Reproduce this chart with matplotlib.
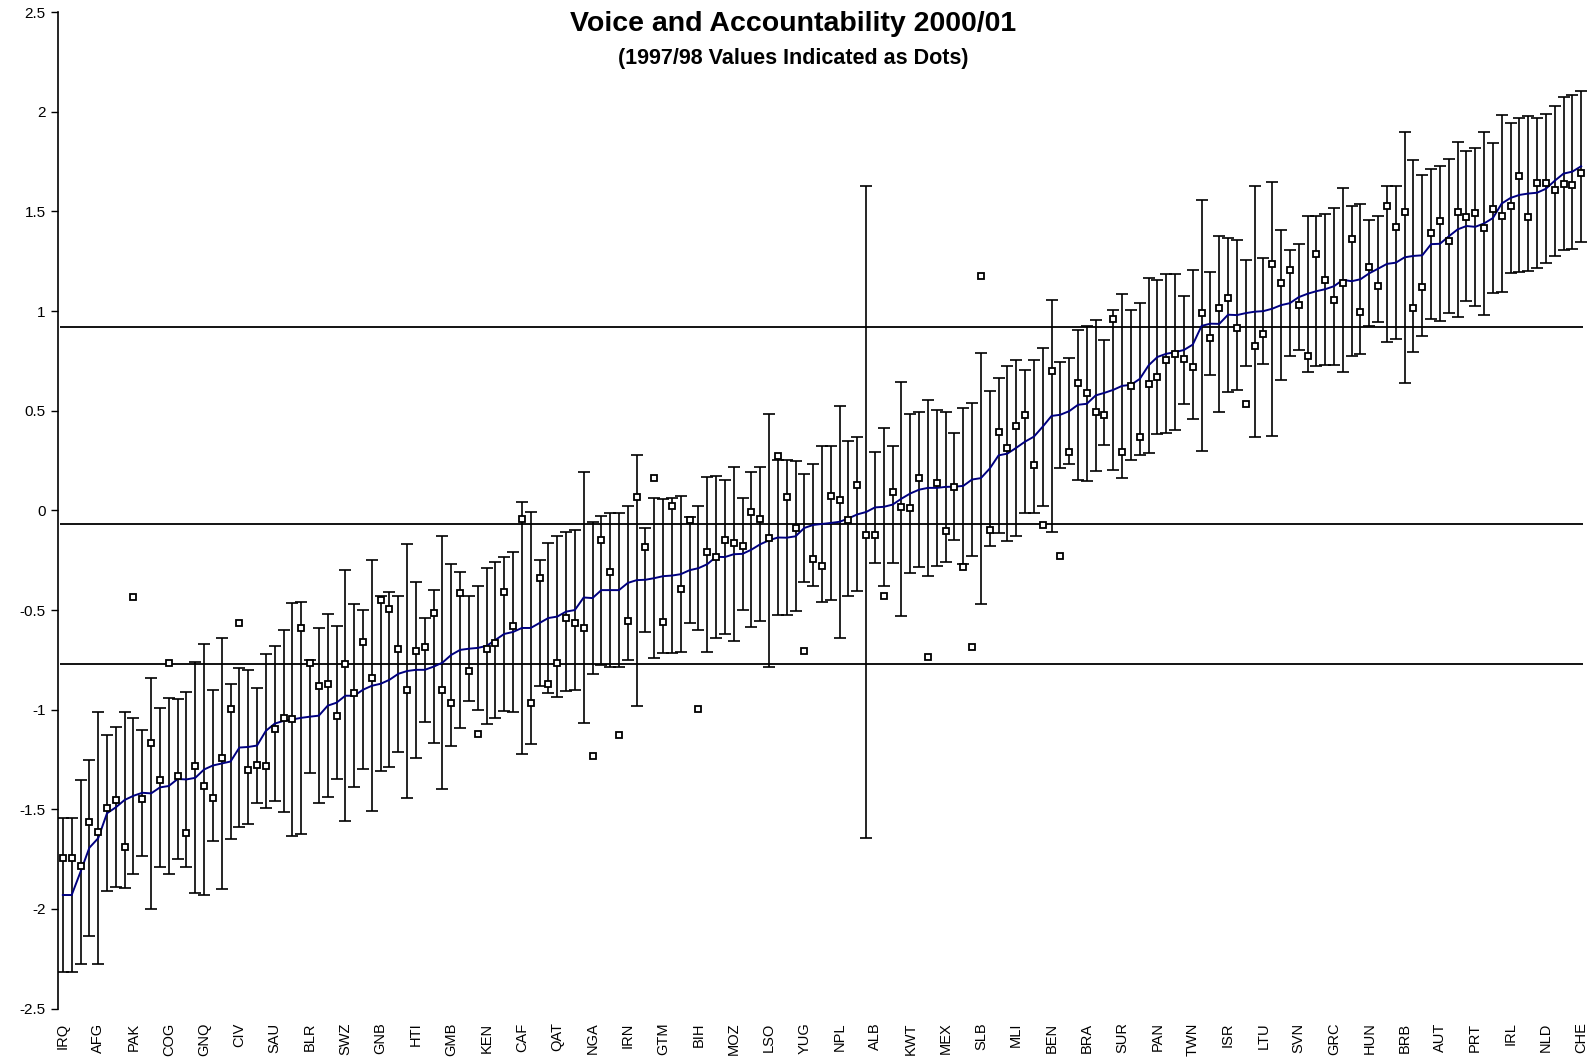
import numpy as np
import matplotlib
matplotlib.use("Agg")
import matplotlib.pyplot as plt

plt.rcParams["font.family"] = ["Liberation Sans", "DejaVu Sans"]

# 2000/01 point estimates, sorted low to high
estimate = [
    -1.93, -1.93, -1.814, -1.693, -1.645, -1.52, -1.49, -1.453, -1.432, -1.417,
    -1.42, -1.39, -1.383, -1.348, -1.35, -1.342, -1.30, -1.28, -1.27, -1.26,
    -1.19, -1.187, -1.18, -1.106, -1.07, -1.056, -1.049, -1.041, -1.035, -1.03,
    -0.98, -0.965, -0.93, -0.93, -0.90, -0.88, -0.87, -0.85, -0.82, -0.806,
    -0.80, -0.80, -0.784, -0.764, -0.725, -0.70, -0.694, -0.69, -0.68, -0.65,
    -0.62, -0.61, -0.59, -0.59, -0.565, -0.54, -0.533, -0.508, -0.50, -0.437,
    -0.44, -0.40, -0.40, -0.40, -0.364, -0.35, -0.348, -0.34, -0.33, -0.327,
    -0.32, -0.30, -0.29, -0.27, -0.233, -0.234, -0.22, -0.218, -0.197, -0.17,
    -0.15, -0.136, -0.137, -0.13, -0.088, -0.073, -0.068, -0.063, -0.057, -0.04,
    -0.02, -0.008, 0.015, 0.018, 0.029, 0.059, 0.085, 0.104, 0.113, 0.113,
    0.118, 0.119, 0.123, 0.155, 0.162, 0.21, 0.276, 0.285, 0.314, 0.345,
    0.37, 0.42, 0.474, 0.48, 0.498, 0.53, 0.535, 0.577, 0.59, 0.605,
    0.625, 0.63, 0.66, 0.728, 0.77, 0.786, 0.794, 0.805, 0.832, 0.926,
    0.937, 0.936, 0.982, 0.98, 0.99, 0.997, 1.0, 1.012, 1.03, 1.04,
    1.07, 1.087, 1.10, 1.11, 1.125, 1.157, 1.15, 1.16, 1.19, 1.213,
    1.237, 1.243, 1.27, 1.277, 1.28, 1.336, 1.338, 1.375, 1.41, 1.427,
    1.423, 1.44, 1.467, 1.54, 1.568, 1.583, 1.59, 1.594, 1.614, 1.654,
    1.69, 1.70, 1.727,
]

# half-width of the confidence interval around each estimate
margin = [
    0.385, 0.385, 0.462, 0.441, 0.632, 0.392, 0.402, 0.44, 0.392, 0.315,
    0.581, 0.40, 0.44, 0.40, 0.44, 0.58, 0.63, 0.38, 0.63, 0.39,
    0.40, 0.386, 0.29, 0.386, 0.39, 0.456, 0.583, 0.583, 0.284, 0.438,
    0.46, 0.385, 0.63, 0.46, 0.40, 0.63, 0.44, 0.44, 0.39, 0.635,
    0.44, 0.26, 0.385, 0.636, 0.456, 0.39, 0.264, 0.31, 0.39, 0.39,
    0.386, 0.40, 0.63, 0.58, 0.316, 0.376, 0.405, 0.40, 0.40, 0.63,
    0.38, 0.374, 0.385, 0.385, 0.386, 0.63, 0.26, 0.40, 0.388, 0.39,
    0.39, 0.266, 0.31, 0.44, 0.406, 0.386, 0.436, 0.28, 0.39, 0.386,
    0.635, 0.39, 0.39, 0.376, 0.27, 0.305, 0.39, 0.386, 0.582, 0.39,
    0.386, 1.637, 0.28, 0.397, 0.294, 0.587, 0.40, 0.39, 0.44, 0.39,
    0.378, 0.268, 0.392, 0.382, 0.63, 0.388, 0.39, 0.44, 0.44, 0.36,
    0.385, 0.396, 0.58, 0.265, 0.265, 0.376, 0.388, 0.38, 0.264, 0.40,
    0.46, 0.376, 0.383, 0.44, 0.385, 0.40, 0.39, 0.27, 0.375, 0.63,
    0.26, 0.44, 0.386, 0.376, 0.266, 0.63, 0.266, 0.637, 0.376, 0.266,
    0.265, 0.39, 0.376, 0.378, 0.393, 0.46, 0.376, 0.376, 0.265, 0.266,
    0.39, 0.385, 0.63, 0.48, 0.405, 0.376, 0.39, 0.386, 0.44, 0.376,
    0.396, 0.46, 0.375, 0.443, 0.378, 0.388, 0.388, 0.376, 0.375, 0.376,
    0.383, 0.386, 0.379,
]

# 1997/98 estimates for the same countries
values_9798 = [
    -1.746, -1.743, -1.784, -1.562, -1.612, -1.493, -1.453, -1.687, -0.433, -1.450,
    -1.165, -1.353, -0.764, -1.333, -1.617, -1.282, -1.381, -1.441, -1.244, -0.996,
    -0.563, -1.303, -1.278, -1.282, -1.097, -1.043, -1.047, -0.588, -0.767, -0.880,
    -0.871, -1.030, -0.770, -0.918, -0.659, -0.843, -0.450, -0.495, -0.696, -0.901,
    -0.704, -0.684, -0.513, -0.901, -0.965, -0.413, -0.804, -1.122, -0.697, -0.667,
    -0.408, -0.578, -0.043, -0.965, -0.338, -0.873, -0.767, -0.538, -0.564, -0.592,
    -1.231, -0.149, -0.307, -1.127, -0.555, 0.069, -0.182, 0.161, -0.558, 0.024,
    -0.396, -0.048, -0.996, -0.207, -0.232, -0.149, -0.162, -0.177, -0.006, -0.043,
    -0.137, 0.273, 0.069, -0.087, -0.704, -0.245, -0.277, 0.074, 0.052, -0.048,
    0.127, -0.123, -0.123, -0.428, 0.094, 0.019, 0.011, 0.161, -0.737, 0.136,
    -0.102, 0.119, -0.285, -0.684, 1.178, -0.098, 0.395, 0.315, 0.424, 0.479,
    0.228, -0.073, 0.700, -0.227, 0.295, 0.638, 0.591, 0.495, 0.479, 0.959,
    0.292, 0.626, 0.370, 0.634, 0.668, 0.755, 0.785, 0.758, 0.721, 0.992,
    0.867, 1.017, 1.067, 0.914, 0.532, 0.826, 0.884, 1.236, 1.143, 1.207,
    1.031, 0.776, 1.287, 1.156, 1.056, 1.139, 1.362, 0.997, 1.223, 1.128,
    1.529, 1.424, 1.499, 1.017, 1.123, 1.394, 1.452, 1.352, 1.499, 1.471,
    1.491, 1.418, 1.511, 1.477, 1.527, 1.679, 1.474, 1.641, 1.644, 1.608,
    1.638, 1.633, 1.691,
]

# every fourth country gets a label
tick_codes = [
    "IRQ", "AFG", "PAK", "COG", "GNQ", "CIV", "SAU", "BLR", "SWZ", "GNB", "HTI",
    "GMB", "KEN", "CAF", "QAT", "NGA", "IRN", "GTM", "BIH", "MOZ", "LSO", "YUG",
    "NPL", "ALB", "KWT", "MEX", "SLB", "MLI", "BEN", "BRA", "SUR", "PAN", "TWN",
    "ISR", "LTU", "SVN", "GRC", "HUN", "BRB", "AUT", "PRT", "IRL", "NLD", "CHE",
]

# reference levels drawn across the chart
ref_levels = [0.92, -0.07, -0.77]

x = np.arange(len(estimate))

fig = plt.figure(figsize=(15.91, 10.57), dpi=100)
ax = fig.add_axes([58 / 1591, 48.4 / 1057, 1532 / 1591, 996.4 / 1057])

ax.hlines(ref_levels, -0.3, len(x) - 0.8, colors="black", linewidth=1.3, zorder=1)

ax.errorbar(x, estimate, yerr=margin, fmt="none", ecolor="black",
            elinewidth=1.2, capsize=4.5, capthick=1.2, zorder=2)
ax.plot(x, estimate, color="#000080", linewidth=1.4, zorder=3)
ax.plot(x, values_9798, linestyle="none", marker="s", markersize=4.2,
        markerfacecolor="white", markeredgecolor="black", markeredgewidth=1.3,
        zorder=4)

ax.set_xlim(-0.55, 173.0)
ax.set_ylim(-2.5, 2.5)

yt = np.arange(-2.5, 2.51, 0.5)
ax.set_yticks(yt)
ax.set_yticklabels([f"{v:g}" for v in yt], fontsize=11)
ax.tick_params(axis="y", direction="out", length=5, width=1, pad=4)

ax.set_xticks(x[::4])
ax.set_xticklabels(tick_codes, rotation=90, fontsize=10.5, va="top", ha="center")
ax.tick_params(axis="x", length=0, pad=10)

for side in ["top", "right", "bottom"]:
    ax.spines[side].set_visible(False)
ax.spines["left"].set_linewidth(1.2)

fig.text(0.4987, 0.977, "Voice and Accountability 2000/01", ha="center",
         va="center", fontsize=20.5, fontweight="bold")
fig.text(0.4987, 0.945, "(1997/98 Values Indicated as Dots)", ha="center",
         va="center", fontsize=15.5, fontweight="bold")

fig.savefig("out.png", dpi=100)
